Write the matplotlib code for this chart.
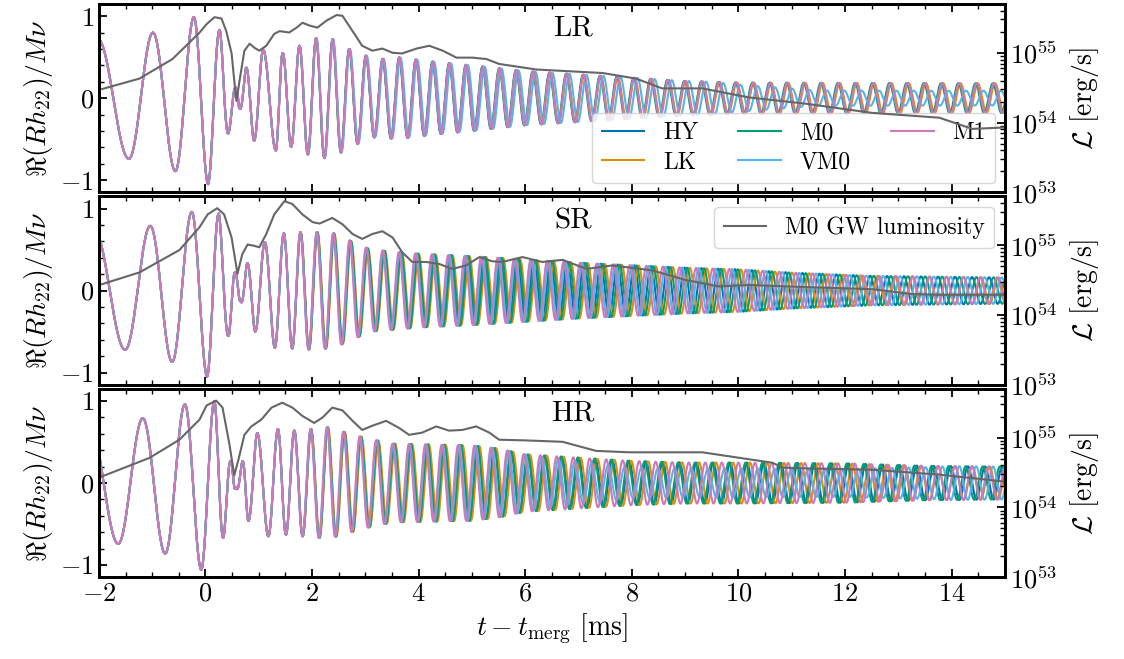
import numpy as np
import matplotlib
matplotlib.use("Agg")
import matplotlib.pyplot as plt
from matplotlib.ticker import MultipleLocator, LogLocator, NullFormatter

plt.rcParams.update({
    "font.family": "serif",
    "font.serif": ["cmr10", "DejaVu Serif"],
    "mathtext.fontset": "cm",
    "axes.formatter.use_mathtext": True,
    "font.size": 19,
    "axes.linewidth": 2.0,
})

RUNS = ["HY", "LK", "M0", "VM0", "M1"]
COLORS = ["#0173b2", "#de8f05", "#029e73", "#56b4e9", "#cc78bc"]
PANELS = ["LR", "SR", "HR"]

# extrema of the common inspiral / merger part (t [ms], value)
EXT_T_LR = [-2.02, -1.44, -0.99, -0.57, -0.22, 0.05, 0.27, 0.44, 0.59, 0.63, 0.76, 0.91, 1.08, 1.32, 1.45]
EXT_V_LR = [0.72, -0.74, 0.80, -0.89, 0.99, -1.05, 0.83, -0.41, 0.10, -0.11, 0.37, -0.52, 0.59, -0.64, 0.55]
EXT_T_SR = [-2.08, -1.51, -1.04, -0.63, -0.26, 0.03, 0.25, 0.44, 0.57, 0.66, 0.78, 0.93, 1.11, 1.30, 1.47]
EXT_V_SR = [0.72, -0.72, 0.79, -0.87, 0.96, -1.05, 0.94, -0.54, 0.20, -0.13, 0.33, -0.50, 0.59, -0.70, 0.70]
EXT_T_HR = [-2.18, -1.64, -1.18, -0.76, -0.39, -0.08, 0.17, 0.34, 0.49, 0.57, 0.69, 0.80, 0.97, 1.18, 1.36, 1.51]
EXT_V_HR = [0.72, -0.74, 0.79, -0.86, 0.96, -1.06, 1.00, -0.66, 0.24, -0.05, 0.26, -0.46, 0.61, -0.65, 0.66, -0.63]

# post-merger envelope of the oscillation
ENV_T_LR = [1.45, 1.8, 2.1, 2.4, 2.7, 3.2, 3.6, 4.2, 5.0, 6.0, 7.0, 8.0, 9.0, 10.0, 15.0]
ENV_A_LR = [0.55, 0.65, 0.74, 0.72, 0.60, 0.47, 0.50, 0.45, 0.40, 0.33, 0.29, 0.25, 0.21, 0.19, 0.18]
ENV_T_SR = [1.47, 2.0, 2.4, 3.1, 4.0, 5.0, 6.0, 7.0, 8.0, 9.0, 10.0, 11.0, 12.5, 15.0]
ENV_A_SR = [0.70, 0.72, 0.70, 0.50, 0.45, 0.42, 0.38, 0.34, 0.31, 0.28, 0.26, 0.22, 0.18, 0.16]
ENV_T_HR = [1.51, 2.3, 3.0, 3.5, 5.0, 5.5, 6.0, 7.0, 8.0, 9.0, 10.0, 12.0, 13.5, 15.0]
ENV_A_HR = [0.63, 0.68, 0.55, 0.48, 0.46, 0.42, 0.35, 0.31, 0.27, 0.25, 0.25, 0.24, 0.21, 0.20]

# post-merger frequency track [kHz] and per-run offsets
FREQ_T = [1.5, 4.0, 8.0, 12.0, 15.0]
FREQ_LR = [3.20, 3.20, 3.15, 3.10, 3.08]
FREQ_SR = [3.20, 3.20, 3.18, 3.15, 3.12]
FREQ_HR = [3.20, 3.20, 3.18, 3.15, 3.12]
DF_LR = [0.0, -0.005, 0.005, -0.03, 0.0]
DF_SR = [0.0, -0.04, -0.02, 0.02, 0.04]
DF_HR = [-0.01, -0.03, 0.0, 0.03, 0.05]

# VM0 amplitude factor where it differs from the others
VM0_SCALE_T = [-3.0, 6.0, 8.0, 9.5, 11.5, 12.0, 14.0, 15.0]
VM0_SCALE_LR = [1.0, 1.0, 1.0, 1.0, 0.5, 0.5, 0.5, 0.5]
VM0_SCALE_SR = [1.0, 1.0, 1.0, 1.0, 1.0, 1.0, 1.0, 1.0]
VM0_SCALE_HR = [1.0, 1.0, 0.7, 0.7, 0.7, 0.7, 1.0, 1.0]

# M0 GW luminosity, log10(L / erg s^-1)
LUM_T_LR = [-1.99, -1.24, -0.62, -0.11, 0.02, 0.17, 0.30, 0.39, 0.49, 0.54, 0.58, 0.66, 0.73, 0.83, 0.92,
            1.01, 1.14, 1.29, 1.39, 1.57, 1.71, 1.82, 1.95, 2.10, 2.27, 2.46, 2.57, 2.76, 2.94, 3.13,
            3.32, 3.51, 3.69, 3.96, 4.20, 4.45, 4.71, 5.01, 5.27, 5.51, 6.21, 7.45, 8.08, 8.57, 9.32,
            10.2, 11.27, 12.5, 13.77, 14.39, 15.0]
LUM_LR = [54.47, 54.63, 54.91, 55.29, 55.41, 55.51, 55.49, 55.31, 54.99, 54.60, 54.31, 54.70, 55.03, 55.13, 55.07,
          55.03, 55.10, 55.27, 55.31, 55.29, 55.36, 55.43, 55.39, 55.36, 55.46, 55.54, 55.53, 55.31, 55.10, 55.03,
          55.06, 55.00, 54.99, 55.06, 55.10, 55.03, 54.93, 54.93, 54.91, 54.84, 54.76, 54.71, 54.63, 54.49, 54.49,
          54.36, 54.27, 54.14, 54.07, 53.91, 53.93]
LUM_T_SR = [-1.99, -1.24, -0.49, -0.11, 0.04, 0.22, 0.35, 0.49, 0.60, 0.69, 0.79, 0.92, 1.01, 1.14, 1.29,
            1.48, 1.63, 1.82, 2.01, 2.14, 2.38, 2.57, 2.76, 2.94, 3.13, 3.32, 3.51, 3.69, 3.88, 4.14,
            4.39, 4.63, 4.89, 5.14, 5.38, 5.57, 5.95, 6.32, 6.70, 7.15, 7.63, 8.38, 9.02, 9.63, 10.2,
            11.27, 12.51, 13.26, 13.77, 15.0]
LUM_SR = [54.43, 54.61, 54.93, 55.26, 55.44, 55.53, 55.44, 55.11, 54.59, 54.87, 55.01, 54.99, 54.97, 55.16, 55.44,
          55.63, 55.59, 55.44, 55.33, 55.31, 55.39, 55.30, 55.16, 55.09, 55.16, 55.20, 55.11, 54.90, 54.76, 54.76,
          54.73, 54.66, 54.71, 54.83, 54.77, 54.76, 54.83, 54.76, 54.79, 54.66, 54.71, 54.64, 54.50, 54.41, 54.43,
          54.40, 54.37, 54.30, 54.29, 54.29]
LUM_T_HR = [-1.99, -1.05, -0.49, -0.11, 0.02, 0.20, 0.32, 0.45, 0.54, 0.62, 0.73, 0.86, 1.05, 1.24, 1.44,
            1.63, 1.82, 2.04, 2.20, 2.38, 2.57, 2.76, 2.94, 3.13, 3.39, 3.63, 3.82, 4.06, 4.33, 4.57,
            4.82, 5.08, 5.33, 5.51, 6.02, 6.70, 7.33, 7.95, 8.57, 9.32, 10.2, 10.64, 10.83, 11.27, 12.51,
            13.77, 15.0]
LUM_HR = [54.43, 54.71, 54.97, 55.26, 55.46, 55.53, 55.43, 54.90, 54.46, 54.69, 55.04, 55.16, 55.26, 55.43, 55.50,
          55.43, 55.31, 55.21, 55.29, 55.43, 55.39, 55.24, 55.11, 55.17, 55.24, 55.14, 55.04, 55.07, 55.16, 55.10,
          55.11, 55.16, 55.07, 54.97, 54.96, 54.94, 54.81, 54.79, 54.79, 54.79, 54.69, 54.64, 54.57, 54.56, 54.54,
          54.47, 54.37]

DATA = {
    "LR": (EXT_T_LR, EXT_V_LR, ENV_T_LR, ENV_A_LR, FREQ_LR, DF_LR, VM0_SCALE_LR, LUM_T_LR, LUM_LR),
    "SR": (EXT_T_SR, EXT_V_SR, ENV_T_SR, ENV_A_SR, FREQ_SR, DF_SR, VM0_SCALE_SR, LUM_T_SR, LUM_SR),
    "HR": (EXT_T_HR, EXT_V_HR, ENV_T_HR, ENV_A_HR, FREQ_HR, DF_HR, VM0_SCALE_HR, LUM_T_HR, LUM_HR),
}


def waveform(t, ext_t, ext_v, env_t, env_a, freq, df, scale):
    ext_t = np.asarray(ext_t)
    ext_v = np.asarray(ext_v)
    k0 = 0 if ext_v[0] > 0 else 1
    ext_phi = np.pi * (np.arange(len(ext_t)) + k0)
    t_join = ext_t[-1]
    f = np.interp(t, FREQ_T, freq) + df
    dphi = np.concatenate([[0], np.cumsum(0.5 * (f[1:] + f[:-1]) * np.diff(t))]) * 2 * np.pi
    dphi = dphi - np.interp(t_join, t, dphi)
    early = t <= t_join
    phi = np.where(early, np.interp(t, ext_t, ext_phi), ext_phi[-1] + dphi)
    amp = np.where(early, np.interp(t, ext_t, np.abs(ext_v)), np.interp(t, env_t, env_a))
    amp = amp * np.interp(t, VM0_SCALE_T, scale)
    return amp * np.cos(phi)


t = np.linspace(-2.3, 15.2, 8000)

fig, axes = plt.subplots(3, 1, figsize=(11.24, 6.59), dpi=100, sharex=True)
fig.subplots_adjust(left=0.088, right=0.894, top=0.994, bottom=0.124, hspace=0.021)

for ax, name in zip(axes, PANELS):
    ext_t, ext_v, env_t, env_a, freq, dfs, vm0_scale, lum_t, lum = DATA[name]
    for run, col, df in zip(RUNS, COLORS, dfs):
        scale = vm0_scale if run == "VM0" else [1.0] * len(VM0_SCALE_T)
        h = waveform(t, ext_t, ext_v, env_t, env_a, freq, df, scale)
        ax.plot(t, h, color=col, lw=1.5, label=run)
    ax.set_xlim(-2, 15)
    ax.set_ylim(-1.15, 1.15)
    ax.xaxis.set_major_locator(MultipleLocator(2))
    ax.xaxis.set_minor_locator(MultipleLocator(0.5))
    ax.yaxis.set_major_locator(MultipleLocator(1))
    ax.yaxis.set_minor_locator(MultipleLocator(0.2))
    ax.tick_params(which="both", direction="in", top=True, right=False, labelsize=19)
    ax.tick_params(which="major", length=6, width=1.3)
    ax.tick_params(which="minor", length=3.5, width=1.0)
    ax.set_ylabel(r"$\Re(Rh_{22})/M\nu$", fontsize=20, labelpad=4)
    ax.text(0.523, 0.87, name, transform=ax.transAxes, ha="center", va="center", fontsize=21)

    ax2 = ax.twinx()
    ax2.semilogy(lum_t, 10.0 ** np.asarray(lum), color="#666666", lw=1.5, label="M0 GW luminosity")
    ax2.set_ylim(1e53, 5e55)
    ax2.yaxis.set_major_locator(LogLocator(base=10, numticks=10))
    ax2.yaxis.set_minor_locator(LogLocator(base=10, subs=np.arange(2, 10), numticks=10))
    ax2.yaxis.set_minor_formatter(NullFormatter())
    ax2.tick_params(which="both", direction="in", labelsize=19)
    ax2.tick_params(which="major", length=6, width=1.3)
    ax2.tick_params(which="minor", length=3.5, width=1.0)
    ax2.set_ylabel(r"$\mathcal{L}\ [\mathrm{erg/s}]$", fontsize=20, labelpad=8)
    for sp in ax2.spines.values():
        sp.set_linewidth(2.0)
    if name == "LR":
        ax.legend(loc="lower right", ncol=3, fontsize=17, handlelength=1.8, columnspacing=1.7,
                  borderaxespad=0.4, labelspacing=0.3, fancybox=True)
    if name == "SR":
        ax2.legend(loc="upper right", fontsize=17, handlelength=1.8, borderaxespad=0.45, fancybox=True)

axes[-1].set_xlabel(r"$t - t_{\rm merg}\ [\rm ms]$", fontsize=20)

fig.savefig("out.png", dpi=100)
